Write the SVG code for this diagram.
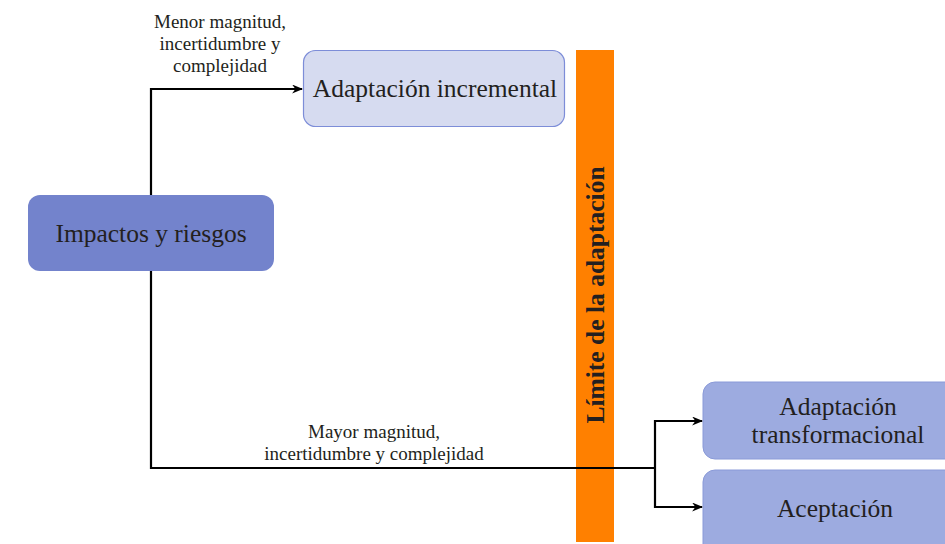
<svg xmlns="http://www.w3.org/2000/svg" width="945" height="544" viewBox="0 0 945 544">
  <style>
    .lbl { font-family: "Liberation Serif", "Times New Roman", serif; fill: #231f20; text-anchor: middle; }
    .node-text { font-size: 25.5px; }
    .edge-text { font-size: 19px; }
    .edge { fill: none; stroke: #000; stroke-width: 2.2; }
  </style>
  <defs>
    <marker id="arrow" viewBox="0 0 10 10" refX="9" refY="5" markerWidth="11" markerHeight="9" orient="auto" markerUnits="userSpaceOnUse" preserveAspectRatio="none">
      <path d="M0,0 L10,5 L0,10 L3,5 Z" fill="#000"/>
    </marker>
  </defs>
  <rect width="945" height="544" fill="#fff"/>

  <g id="limite">
    <rect x="576" y="50" width="38" height="492" fill="#ff8000"/>
    <text class="lbl" x="0" y="0" font-size="25.5" font-weight="bold" transform="translate(604,295) rotate(-90)">Límite de la adaptación</text>
  </g>

  <g id="impactos">
    <rect x="28" y="195" width="246" height="76" rx="12" fill="#7383cc"/>
    <text class="lbl node-text" x="151" y="242">Impactos y riesgos</text>
  </g>

  <g id="incremental">
    <rect x="303.5" y="50.5" width="261" height="76" rx="12" fill="#d6dbf0" stroke="#7d8dd8" stroke-width="1.2"/>
    <text class="lbl node-text" x="435" y="97">Adaptación incremental</text>
  </g>

  <g id="transformacional">
    <rect x="703" y="382" width="260" height="77" rx="12" fill="#9dabe0" stroke="#8a9ad8" stroke-width="1"/>
    <text class="lbl node-text" x="838" y="415">Adaptación</text>
    <text class="lbl node-text" x="838" y="443">transformacional</text>
  </g>

  <g id="aceptacion">
    <rect x="703" y="470" width="260" height="90" rx="12" fill="#9dabe0" stroke="#8a9ad8" stroke-width="1"/>
    <text class="lbl node-text" x="835" y="517">Aceptación</text>
  </g>

  <g id="connectors">
    <path class="edge" d="M151,195 V89 H302" marker-end="url(#arrow)"/>
    <path class="edge" d="M151,271 V468 H655"/>
    <path class="edge" d="M655,420 V508"/>
    <path class="edge" d="M654,421 H702" marker-end="url(#arrow)"/>
    <path class="edge" d="M654,507 H702" marker-end="url(#arrow)"/>
    <text class="lbl edge-text" x="220" y="28">Menor magnitud,</text>
    <text class="lbl edge-text" x="220" y="50">incertidumbre y</text>
    <text class="lbl edge-text" x="220" y="72">complejidad</text>
    <text class="lbl edge-text" x="374" y="438">Mayor magnitud,</text>
    <text class="lbl edge-text" x="374" y="460">incertidumbre y complejidad</text>
  </g>
</svg>
